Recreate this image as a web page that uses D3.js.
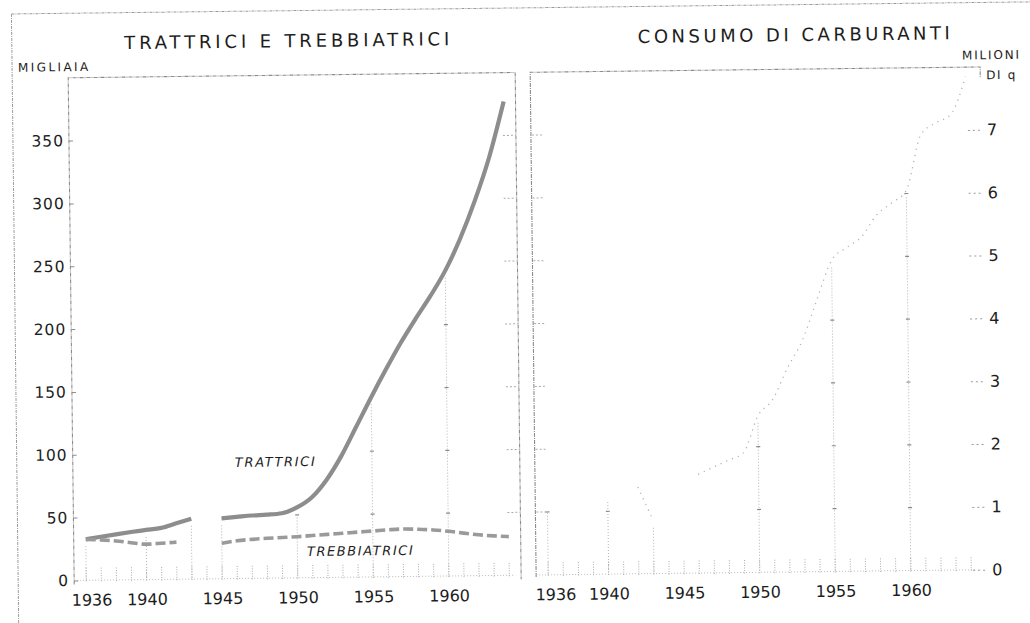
<!DOCTYPE html>
<html>
<head>
<meta charset="utf-8">
<script src="https://cdn.jsdelivr.net/npm/d3@7"></script>
<style>
  html, body { margin: 0; padding: 0; background: #fff; }
  svg { display: block; }
  text { font-family: "DejaVu Sans", sans-serif; fill: #1d1d1d; }
</style>
</head>
<body>
<svg id="chart" width="1030" height="623"></svg>
<script>
// ---- data -------------------------------------------------------------
const years = d3.range(1936, 1965);

// tractors, thousands (null = no figure for that year)
const trattrici = [32.6, 34.5, 36.3, 38, 39.5, 41, 44.5, 48, null,
  48, 49, 50, 50.5, 51.5, 56, 64, 78, 97, 120, 143, 165, 186, 205, 223,
  243, 268, 298, 333, 377];

// threshing machines, thousands
const trebbiatrici = [32.5, 32, 31, 29.5, 28.2, 28.8, 29.5, null, null,
  28.2, 30, 31, 31.7, 32.2, 32.7, 33.5, 34.3, 35, 35.8, 36.5, 37.3, 37.8, 37.5, 36.8,
  35.6, 34, 32.5, 31.5, 30.8];

// fuel consumption, millions of quintals
const carburanti = [1.1, null, null, null, 1.26, null, 1.38, 0.84, null,
  null, 1.57, 1.68, 1.79, 1.9, 2.49, 2.75, 3.25, 3.68, 4.33, 4.95, 5.15, 5.32, 5.66, 5.85,
  6.05, 6.93, 7.12, 7.25, 7.85];

const yearLabels = [1936, 1940, 1945, 1950, 1955, 1960];
const leftTicks = [0, 50, 100, 150, 200, 250, 300, 350];
const rightTicks = [0, 1, 2, 3, 4, 5, 6, 7];
const dropYears = [1936, 1940, 1943, 1945, 1950, 1955, 1960];

// ---- layout -----------------------------------------------------------
const svg = d3.select("#chart");
const root = svg.append("g").attr("transform", "rotate(-0.68 515 311)");

const panelW = 448, topY = 72.5, baseY = 575.2;
const x = d3.scaleLinear().domain([1935.2, 1964.85]).range([0, panelW]);
const yL = d3.scaleLinear().domain([0, 400]).range([baseY, topY]);
const yR = d3.scaleLinear().domain([0, 8]).range([baseY, topY]);

const faint = "#ababab";

// page frame
root.append("line").attr("x1", 15).attr("x2", 1040).attr("y1", 8).attr("y2", 8)
  .attr("stroke", "#9a9a9a").attr("stroke-width", 1).attr("stroke-dasharray", "3 1 1 1");
root.append("line").attr("x1", 15).attr("x2", 15).attr("y1", 8).attr("y2", 640)
  .attr("stroke", "#9a9a9a").attr("stroke-width", 1).attr("stroke-dasharray", "3 1 1 1");

function panel(ox, yScale, ticks, series, opts) {
  const g = root.append("g").attr("transform", `translate(${ox},0)`);

  // frame
  g.append("path")
    .attr("d", opts.frame)
    .attr("fill", "none").attr("stroke", "#8c8c8c").attr("stroke-width", 1.1)
    .attr("stroke-dasharray", "4 1 1 1");

  // faint baseline
  g.append("line").attr("x1", 0).attr("x2", x(1964.4)).attr("y1", baseY).attr("y2", baseY)
    .attr("stroke", faint).attr("stroke-width", 0.8).attr("stroke-dasharray", "1 2");

  // yearly ticks along the baseline
  g.selectAll("line.yt").data(years).join("line").attr("class", "yt")
    .attr("x1", d => x(d)).attr("x2", d => x(d))
    .attr("y1", baseY + 1).attr("y2", baseY - 13)
    .attr("stroke", faint).attr("stroke-width", 1).attr("stroke-dasharray", "1 1.5");

  // drop lines from the leading series down to the baseline
  const lead = series[0].values;
  const drops = dropYears
    .map(yr => ({ yr, v: lead[years.indexOf(yr)] }))
    .filter(d => d.v != null);
  g.selectAll("line.drop").data(drops).join("line").attr("class", "drop")
    .attr("x1", d => x(d.yr)).attr("x2", d => x(d.yr))
    .attr("y1", d => yScale(d.v) + 7).attr("y2", baseY)
    .attr("stroke", "#b4b4b4").attr("stroke-width", 1).attr("stroke-dasharray", "1 2");
  const crosses = [];
  drops.forEach(d => ticks.forEach(t => { if (t > 0 && t <= d.v) crosses.push({ yr: d.yr, t }); }));
  g.selectAll("line.cross").data(crosses).join("line").attr("class", "cross")
    .attr("x1", d => x(d.yr) - 2).attr("x2", d => x(d.yr) + 2)
    .attr("y1", d => yScale(d.t)).attr("y2", d => yScale(d.t))
    .attr("stroke", "#8a8a8a").attr("stroke-width", 1.2);

  // series
  series.forEach(s => {
    const line = d3.line()
      .defined(d => d.v != null)
      .x(d => x(d.yr)).y(d => yScale(d.v))
      .curve(d3.curveMonotoneX);
    g.append("path")
      .datum(years.map((yr, i) => ({ yr, v: s.values[i] })))
      .attr("d", line)
      .attr("fill", "none")
      .attr("stroke", s.color).attr("stroke-width", s.width)
      .attr("stroke-dasharray", s.dash || null)
      .attr("stroke-linejoin", "round");
  });

  // year labels
  const xAxis = d3.axisBottom(x).tickValues(yearLabels).tickSize(0).tickPadding(14)
    .tickFormat(d3.format("d"));
  const ax = g.append("g").attr("transform", `translate(0,${baseY})`).call(xAxis);
  ax.select(".domain").remove();
  ax.selectAll("text").attr("font-size", 16).attr("font-family", "DejaVu Sans")
    .attr("fill", "#1d1d1d")
    .attr("dx", d => d === yearLabels[0] ? opts.firstDx : 0);
  return g;
}

// ---- left panel: tractors and threshers -------------------------------
const gL = panel(71, yL, leftTicks, [
  { values: trattrici, color: "#8d8d8d", width: 4.2 },
  { values: trebbiatrici, color: "#9a9a9a", width: 3.6, dash: "10 4" }
], {
  frame: `M0,${baseY + 4}V${topY}H${panelW - 2}M${panelW - 1},${topY}V${baseY + 4}`,
  firstDx: 5
});

const yAxisL = d3.axisLeft(yL).tickValues(leftTicks).tickSize(-4).tickPadding(5);
const axL = gL.append("g").call(yAxisL);
axL.select(".domain").remove();
axL.selectAll("line").attr("stroke", "#8c8c8c");
axL.selectAll("text").attr("font-size", 15.5).attr("font-family", "DejaVu Sans")
  .attr("fill", "#1d1d1d").attr("letter-spacing", 1);

// inward ticks along the right edge of the left panel
gL.selectAll("line.rt").data(leftTicks.filter(t => t > 0)).join("line").attr("class", "rt")
  .attr("x1", panelW - 14).attr("x2", panelW - 1)
  .attr("y1", d => yL(d)).attr("y2", d => yL(d))
  .attr("stroke", faint).attr("stroke-dasharray", "2 2");

gL.append("text").attr("x", 233).attr("y", 459).attr("dy", "0.35em")
  .attr("font-size", 13).attr("font-style", "italic")
  .attr("textLength", 80).attr("lengthAdjust", "spacing")
  .text("TRATTRICI").attr("transform", "translate(-71,0)");
gL.append("text").attr("x", 304).attr("y", 549).attr("dy", "0.35em")
  .attr("font-size", 13).attr("font-style", "italic")
  .attr("textLength", 106).attr("lengthAdjust", "spacing")
  .text("TREBBIATRICI").attr("transform", "translate(-71,0)");

// ---- right panel: fuel consumption ------------------------------------
const gR = panel(533, yR, rightTicks, [
  { values: carburanti, color: "#b3b3b3", width: 1.3, dash: "1.2 5" }
], {
  frame: `M0,${baseY + 2}V${topY}H${panelW + 2}V${topY + 11}`,
  firstDx: 7
});

const yAxisR = d3.axisRight(yR).tickValues(rightTicks).tickSize(-14).tickPadding(7);
const axR = gR.append("g").attr("transform", `translate(${panelW + 1},0)`).call(yAxisR);
axR.select(".domain").remove();
axR.selectAll("line").attr("stroke", "#9a9a9a").attr("stroke-dasharray", "2 3");
axR.selectAll("text").attr("font-size", 16).attr("font-family", "DejaVu Sans")
  .attr("fill", "#1d1d1d");

// inward ticks along the left edge of the right panel
gR.selectAll("line.lt").data(rightTicks.filter(t => t > 0)).join("line").attr("class", "lt")
  .attr("x1", 1).attr("x2", 12)
  .attr("y1", d => yR(d)).attr("y2", d => yR(d))
  .attr("stroke", faint).attr("stroke-dasharray", "2 2");

// ---- titles and unit labels -------------------------------------------
function label(txt, cx, cy, size, width, anchor) {
  root.append("text").attr("x", cx).attr("y", cy).attr("dy", "0.36em")
    .attr("text-anchor", anchor || "middle")
    .attr("font-size", size)
    .attr("textLength", width).attr("lengthAdjust", "spacing")
    .text(txt);
}
label("TRATTRICI E TREBBIATRICI", 290, 38, 18, 325);
label("CONSUMO DI CARBURANTI", 797, 38, 18, 312);
label("MIGLIAIA", 21, 61.5, 12, 70, "start");
label("MILIONI", 965, 60.5, 12, 57, "start");
label("DI q", 989, 80.5, 12, 29, "start");
</script>
</body>
</html>
